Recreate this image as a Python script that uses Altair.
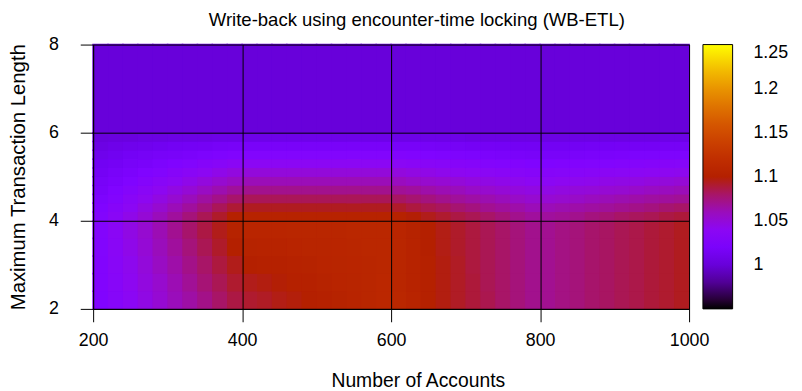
import altair as alt
import pandas as pd

# ---- cell edges (Number of Accounts / Maximum Transaction Length) ----
x_edges = [200, 220, 240, 260, 280, 300, 320, 340, 360, 380, 400,
           420, 440, 460, 480, 500, 520, 540, 560, 580, 600,
           620, 640, 660, 680, 700, 720, 740, 760, 780, 800,
           820, 840, 860, 880, 900, 920, 940, 960, 980, 1000]
y_edges = [2.0, 2.4, 2.8, 3.2, 3.6, 4.0, 4.2, 4.4, 4.6, 4.8, 5.0,
           5.2, 5.4, 5.6, 5.8, 6.0, 8.0]

# ---- cell values (rows bottom -> top) ----
z_row01 = [1.026, 1.033, 1.039, 1.046, 1.053, 1.060, 1.066, 1.073, 1.080, 1.087,
           1.091, 1.093, 1.096, 1.098, 1.100, 1.102, 1.104, 1.106, 1.109, 1.111,
           1.110, 1.106, 1.101, 1.097, 1.093, 1.089, 1.085, 1.080, 1.076, 1.072,
           1.071, 1.074, 1.076, 1.079, 1.081, 1.084, 1.086, 1.089, 1.091, 1.094]
z_row02 = [1.027, 1.034, 1.041, 1.048, 1.055, 1.062, 1.070, 1.077, 1.084, 1.091,
           1.095, 1.097, 1.099, 1.101, 1.102, 1.104, 1.106, 1.107, 1.109, 1.111,
           1.109, 1.105, 1.101, 1.097, 1.093, 1.089, 1.084, 1.080, 1.076, 1.072,
           1.071, 1.074, 1.076, 1.079, 1.081, 1.084, 1.086, 1.089, 1.091, 1.094]
z_row03 = [1.027, 1.035, 1.042, 1.050, 1.058, 1.065, 1.073, 1.080, 1.088, 1.095,
           1.100, 1.101, 1.102, 1.103, 1.104, 1.106, 1.107, 1.108, 1.109, 1.110,
           1.109, 1.105, 1.101, 1.097, 1.093, 1.088, 1.084, 1.080, 1.076, 1.072,
           1.071, 1.074, 1.076, 1.079, 1.081, 1.084, 1.086, 1.089, 1.091, 1.094]
z_row04 = [1.028, 1.036, 1.044, 1.052, 1.060, 1.068, 1.076, 1.084, 1.092, 1.100,
           1.104, 1.105, 1.105, 1.106, 1.107, 1.107, 1.108, 1.109, 1.110, 1.110,
           1.109, 1.105, 1.100, 1.096, 1.092, 1.088, 1.084, 1.080, 1.076, 1.072,
           1.071, 1.074, 1.076, 1.079, 1.081, 1.084, 1.086, 1.089, 1.091, 1.094]
z_row05 = [1.029, 1.037, 1.046, 1.054, 1.062, 1.071, 1.079, 1.087, 1.095, 1.104,
           1.108, 1.108, 1.108, 1.109, 1.109, 1.109, 1.109, 1.110, 1.110, 1.110,
           1.108, 1.104, 1.100, 1.096, 1.092, 1.088, 1.084, 1.080, 1.076, 1.072,
           1.071, 1.074, 1.076, 1.079, 1.081, 1.084, 1.086, 1.089, 1.091, 1.094]
z_row06 = [1.028, 1.036, 1.044, 1.052, 1.060, 1.068, 1.076, 1.084, 1.092, 1.101,
           1.105, 1.105, 1.105, 1.105, 1.105, 1.105, 1.105, 1.105, 1.105, 1.105,
           1.103, 1.099, 1.095, 1.091, 1.087, 1.084, 1.080, 1.076, 1.072, 1.068,
           1.068, 1.070, 1.072, 1.075, 1.077, 1.080, 1.082, 1.084, 1.087, 1.089]
z_row07 = [1.025, 1.032, 1.039, 1.047, 1.054, 1.061, 1.068, 1.075, 1.083, 1.090,
           1.094, 1.094, 1.094, 1.094, 1.094, 1.094, 1.094, 1.094, 1.094, 1.094,
           1.092, 1.088, 1.085, 1.082, 1.078, 1.075, 1.071, 1.068, 1.065, 1.061,
           1.061, 1.063, 1.065, 1.067, 1.069, 1.071, 1.073, 1.075, 1.078, 1.080]
z_row08 = [1.022, 1.028, 1.035, 1.041, 1.047, 1.054, 1.060, 1.067, 1.073, 1.079,
           1.083, 1.083, 1.083, 1.083, 1.083, 1.083, 1.083, 1.083, 1.083, 1.083,
           1.081, 1.078, 1.075, 1.072, 1.069, 1.066, 1.063, 1.060, 1.057, 1.054,
           1.053, 1.055, 1.057, 1.059, 1.061, 1.063, 1.065, 1.067, 1.068, 1.070]
z_row09 = [1.019, 1.025, 1.030, 1.036, 1.041, 1.047, 1.052, 1.058, 1.063, 1.069,
           1.072, 1.072, 1.072, 1.072, 1.072, 1.072, 1.072, 1.072, 1.072, 1.072,
           1.070, 1.068, 1.065, 1.062, 1.060, 1.057, 1.055, 1.052, 1.049, 1.047,
           1.046, 1.048, 1.050, 1.051, 1.053, 1.054, 1.056, 1.058, 1.059, 1.061]
z_row10 = [1.016, 1.021, 1.025, 1.030, 1.035, 1.039, 1.044, 1.049, 1.054, 1.058,
           1.061, 1.061, 1.061, 1.061, 1.061, 1.061, 1.061, 1.061, 1.061, 1.061,
           1.059, 1.057, 1.055, 1.053, 1.051, 1.048, 1.046, 1.044, 1.042, 1.040,
           1.039, 1.041, 1.042, 1.043, 1.045, 1.046, 1.047, 1.049, 1.050, 1.052]
z_row11 = [1.013, 1.017, 1.021, 1.025, 1.028, 1.032, 1.036, 1.040, 1.044, 1.048,
           1.050, 1.050, 1.050, 1.050, 1.050, 1.050, 1.050, 1.050, 1.050, 1.050,
           1.049, 1.047, 1.045, 1.043, 1.041, 1.040, 1.038, 1.036, 1.034, 1.032,
           1.032, 1.033, 1.034, 1.035, 1.037, 1.038, 1.039, 1.040, 1.041, 1.042]
z_row12 = [1.010, 1.013, 1.016, 1.019, 1.022, 1.025, 1.028, 1.031, 1.034, 1.037,
           1.039, 1.039, 1.039, 1.039, 1.039, 1.039, 1.039, 1.039, 1.039, 1.039,
           1.038, 1.036, 1.035, 1.034, 1.032, 1.031, 1.029, 1.028, 1.027, 1.025,
           1.025, 1.026, 1.027, 1.028, 1.028, 1.029, 1.030, 1.031, 1.032, 1.033]
z_row13 = [1.007, 1.009, 1.012, 1.014, 1.016, 1.018, 1.020, 1.022, 1.024, 1.026,
           1.028, 1.028, 1.028, 1.028, 1.028, 1.028, 1.028, 1.028, 1.028, 1.028,
           1.027, 1.026, 1.025, 1.024, 1.023, 1.022, 1.021, 1.020, 1.019, 1.018,
           1.018, 1.018, 1.019, 1.020, 1.020, 1.021, 1.022, 1.022, 1.023, 1.023]
z_row14 = [1.004, 1.006, 1.007, 1.008, 1.009, 1.011, 1.012, 1.013, 1.015, 1.016,
           1.017, 1.017, 1.017, 1.017, 1.017, 1.017, 1.017, 1.017, 1.017, 1.017,
           1.016, 1.016, 1.015, 1.014, 1.014, 1.013, 1.013, 1.012, 1.011, 1.011,
           1.011, 1.011, 1.011, 1.012, 1.012, 1.013, 1.013, 1.013, 1.014, 1.014]
z_row15 = [1.001, 1.002, 1.002, 1.003, 1.003, 1.004, 1.004, 1.004, 1.005, 1.005,
           1.006, 1.006, 1.006, 1.006, 1.006, 1.006, 1.006, 1.006, 1.006, 1.006,
           1.005, 1.005, 1.005, 1.005, 1.005, 1.004, 1.004, 1.004, 1.004, 1.004,
           1.004, 1.004, 1.004, 1.004, 1.004, 1.004, 1.004, 1.004, 1.005, 1.005]
z_row16 = [1.000, 1.000, 1.000, 1.000, 1.000, 1.000, 1.000, 1.000, 1.000, 1.000,
           1.000, 1.000, 1.000, 1.000, 1.000, 1.000, 1.000, 1.000, 1.000, 1.000,
           1.000, 1.000, 1.000, 1.000, 1.000, 1.000, 1.000, 1.000, 1.000, 1.000,
           1.000, 1.000, 1.000, 1.000, 1.000, 1.000, 1.000, 1.000, 1.000, 1.000]

rows = [z_row01, z_row02, z_row03, z_row04, z_row05, z_row06, z_row07, z_row08,
        z_row09, z_row10, z_row11, z_row12, z_row13, z_row14, z_row15, z_row16]

# ---- tick labels ----
x_ticks = [200, 400, 600, 800, 1000]
y_ticks = [2, 4, 6, 8]
cb_ticks = [1.0, 1.05, 1.1, 1.15, 1.2, 1.25]

# ---- colour palette (gnuplot rgbformulae 7,5,15) ----
cb_stops = [0.95, 0.965, 0.98, 0.995, 1.01, 1.025, 1.04, 1.055, 1.07, 1.085, 1.1,
            1.115, 1.13, 1.145, 1.16, 1.175, 1.19, 1.205, 1.22, 1.235, 1.25]
cb_colors = ["#000000", "#39004f", "#510096", "#6301ce", "#7202f3", "#8004ff",
             "#8c07f3", "#970bce", "#a11096", "#ab174f", "#b42000", "#bd2a00",
             "#c63700", "#ce4600", "#d55700", "#dd6c00", "#e48300", "#eb9d00",
             "#f2ba00", "#f9db00", "#ffff00"]

records = []
for r, vals in enumerate(rows):
    for c, v in enumerate(vals):
        records.append({"x0": x_edges[c], "x1": x_edges[c + 1],
                        "y0": y_edges[r], "y1": y_edges[r + 1],
                        "v": v, "v_edge": v})
df = pd.DataFrame(records)

FONT = "Liberation Sans"
FS = 18

base = alt.Chart(df).encode(
    x=alt.X("x0:Q", scale=alt.Scale(domain=[200, 1000], nice=False, zero=False),
            axis=alt.Axis(values=x_ticks, format="d", title="Number of Accounts",
                          grid=True, gridColor="black", gridOpacity=1, gridWidth=1,
                          domainColor="black", tickColor="black", tickSize=13,
                          labelFont=FONT, labelFontSize=FS, labelColor="black",
                          labelBaseline="alphabetic", labelPadding=24,
                          labelFlush=False,
                          titleFont=FONT, titleFontSize=19.5, titleFontWeight="normal",
                          titleColor="black", titleX=328, titleY=78,
                          titleBaseline="alphabetic", titleAlign="center",
                          zindex=1)),
    x2="x1:Q",
    y=alt.Y("y0:Q", scale=alt.Scale(domain=[2, 8], nice=False, zero=False),
            axis=alt.Axis(values=y_ticks, format="d", title="Maximum Transaction Length",
                          grid=True, gridColor="black", gridOpacity=1, gridWidth=1,
                          domainColor="black", tickColor="black", tickSize=13,
                          labelFont=FONT, labelFontSize=FS, labelColor="black",
                          labelPadding=22, labelFlush=False,
                          titleFont=FONT, titleFontSize=20.5, titleFontWeight="normal",
                          titleColor="black", titleX=-69, titleY=133.5,
                          titleAngle=-90, titleBaseline="alphabetic",
                          titleAlign="center", zindex=1)),
    y2="y1:Q",
)

# under-layer: outlines in the cell colour, hiding anti-aliasing seams
edges = base.mark_rect(filled=False, strokeWidth=1.6).encode(
    stroke=alt.Stroke("v_edge:Q",
                      scale=alt.Scale(domain=cb_stops, range=cb_colors,
                                      interpolate="rgb", clamp=True),
                      legend=None),
)

cells = base.mark_rect().encode(
    color=alt.Color("v:Q",
                    scale=alt.Scale(domain=cb_stops, range=cb_colors,
                                    interpolate="rgb", clamp=True),
                    legend=alt.Legend(type="gradient", orient="none",
                                      legendX=616, legendY=0,
                                      direction="vertical", title=None,
                                      gradientLength=267, gradientThickness=30,
                                      gradientStrokeColor="black",
                                      gradientStrokeWidth=1,
                                      values=cb_ticks, format=".3~g",
                                      labelFont=FONT, labelFontSize=FS,
                                      labelColor="black", labelOffset=21,
                                      labelOverlap=False, padding=0)),
)

chart = alt.layer(edges, cells).properties(
    width=602,
    height=267,
    title=alt.TitleParams("Write-back using encounter-time locking (WB-ETL)",
                          font=FONT, fontSize=18.7, fontWeight="normal",
                          color="black", anchor="middle", frame="group",
                          baseline="alphabetic", offset=8, dx=26, dy=17),
    autosize=alt.AutoSizeParams(type="none"),
    padding={"left": 86, "top": 35, "right": 106, "bottom": 81},
).resolve_scale(stroke="independent").configure_view(
    stroke="black", strokeWidth=1, clip=True
).configure(background="white")

chart.save("out.html", embed_options={"renderer": "svg", "actions": False})
